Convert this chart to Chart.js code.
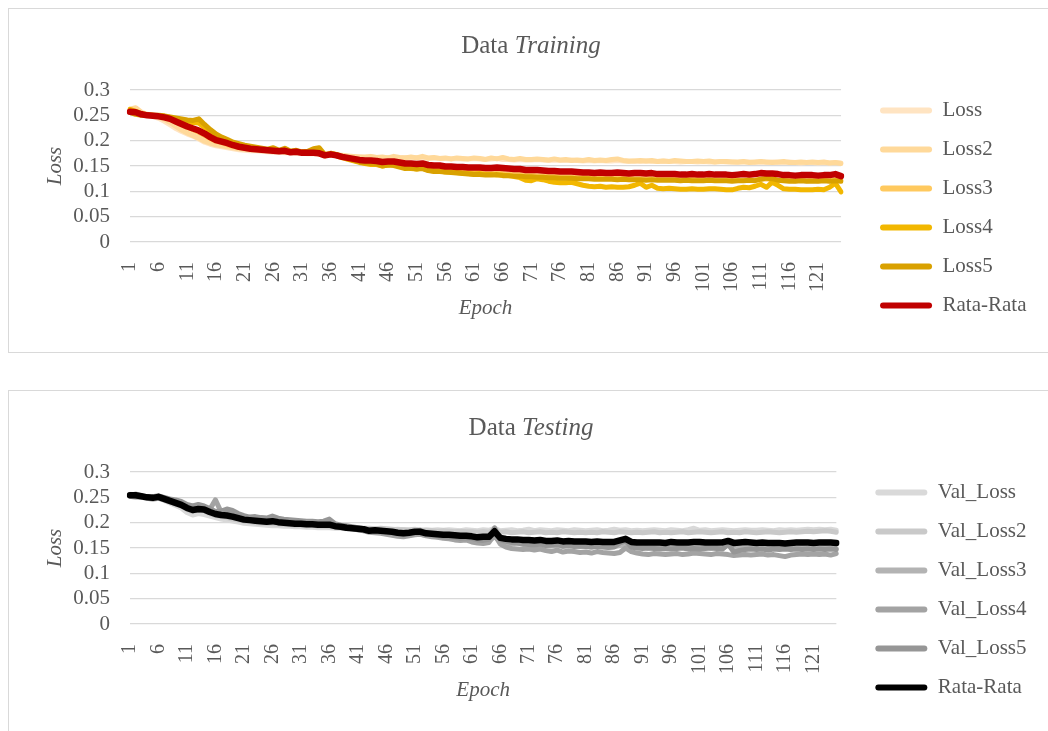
<!DOCTYPE html>
<html>
<head>
<meta charset="utf-8">
<script src="https://cdn.jsdelivr.net/npm/chart.js@4.4.1/dist/chart.umd.min.js"></script>
<style>
    body { margin: 0; overflow: hidden; background: #fff; }
    .box { position: absolute; left: 8px; width: 1044px; height: 343px; border: 1px solid #d9d9d9; }
    canvas { display: block; }
</style>
</head>
<body>
<div class="box" style="top: 8px;"><canvas id="trainChart" width="1044" height="343"></canvas></div>
<div class="box" style="top: 390px;"><canvas id="testChart" width="1044" height="343"></canvas></div>
<script>
const epochs = [
    1, 2, 3, 4, 5, 6, 7, 8, 9, 10, 11, 12, 13, 14, 15, 16, 17, 18, 19, 20,
    21, 22, 23, 24, 25, 26, 27, 28, 29, 30, 31, 32, 33, 34, 35, 36, 37, 38, 39, 40,
    41, 42, 43, 44, 45, 46, 47, 48, 49, 50, 51, 52, 53, 54, 55, 56, 57, 58, 59, 60,
    61, 62, 63, 64, 65, 66, 67, 68, 69, 70, 71, 72, 73, 74, 75, 76, 77, 78, 79, 80,
    81, 82, 83, 84, 85, 86, 87, 88, 89, 90, 91, 92, 93, 94, 95, 96, 97, 98, 99, 100,
    101, 102, 103, 104, 105, 106, 107, 108, 109, 110, 111, 112, 113, 114, 115, 116, 117, 118, 119, 120,
    121, 122, 123, 124, 125
];

// training
const loss = [
    0.258, 0.262, 0.254, 0.251, 0.248, 0.244, 0.238, 0.231, 0.224, 0.218,
    0.213, 0.209, 0.203, 0.197, 0.193, 0.190, 0.188, 0.186, 0.184, 0.182,
    0.181, 0.180, 0.180, 0.179, 0.178, 0.177, 0.177, 0.176, 0.176, 0.175,
    0.175, 0.174, 0.174, 0.173, 0.172, 0.172, 0.171, 0.170, 0.169, 0.168,
    0.168, 0.167, 0.168, 0.167, 0.166, 0.167, 0.166, 0.166, 0.167, 0.166,
    0.167, 0.166, 0.165, 0.166, 0.165, 0.165, 0.164, 0.165, 0.164, 0.164,
    0.165, 0.164, 0.163, 0.164, 0.165, 0.163, 0.163, 0.162, 0.163, 0.162,
    0.162, 0.163, 0.162, 0.161, 0.162, 0.161, 0.161, 0.162, 0.161, 0.160,
    0.161, 0.160, 0.161, 0.160, 0.160, 0.161, 0.160, 0.159, 0.160, 0.159,
    0.160, 0.159, 0.159, 0.160, 0.159, 0.159, 0.158, 0.159, 0.159, 0.158,
    0.159, 0.158, 0.158, 0.159, 0.158, 0.158, 0.157, 0.158, 0.158, 0.157,
    0.158, 0.157, 0.158, 0.157, 0.157, 0.158, 0.157, 0.156, 0.157, 0.157,
    0.156, 0.157, 0.156, 0.157, 0.156
];
const loss2 = [
    0.262, 0.265, 0.256, 0.252, 0.250, 0.247, 0.242, 0.236, 0.228, 0.221,
    0.215, 0.210, 0.205, 0.199, 0.195, 0.192, 0.190, 0.188, 0.186, 0.184,
    0.183, 0.182, 0.181, 0.180, 0.182, 0.179, 0.178, 0.180, 0.177, 0.177,
    0.178, 0.176, 0.175, 0.176, 0.174, 0.175, 0.173, 0.171, 0.170, 0.169,
    0.168, 0.168, 0.169, 0.167, 0.168, 0.166, 0.169, 0.167, 0.166, 0.168,
    0.166, 0.169, 0.166, 0.167, 0.165, 0.166, 0.164, 0.166, 0.165, 0.164,
    0.166, 0.165, 0.163, 0.166, 0.164, 0.167, 0.164, 0.163, 0.165, 0.163,
    0.163, 0.164, 0.163, 0.162, 0.164, 0.162, 0.163, 0.161, 0.162, 0.161,
    0.163, 0.161, 0.162, 0.161, 0.163, 0.164, 0.161, 0.160, 0.160, 0.161,
    0.160, 0.161, 0.159, 0.160, 0.159, 0.161, 0.160, 0.159, 0.159, 0.160,
    0.159, 0.160, 0.158, 0.159, 0.159, 0.158, 0.158, 0.159, 0.157, 0.158,
    0.159, 0.158, 0.157, 0.158, 0.159, 0.157, 0.157, 0.158, 0.157, 0.158,
    0.157, 0.158, 0.156, 0.157, 0.155
];
const loss3 = [
    0.260, 0.256, 0.252, 0.250, 0.249, 0.248, 0.246, 0.243, 0.237, 0.231,
    0.226, 0.221, 0.216, 0.210, 0.204, 0.199, 0.196, 0.192, 0.189, 0.187,
    0.185, 0.184, 0.183, 0.181, 0.180, 0.180, 0.179, 0.178, 0.177, 0.177,
    0.176, 0.175, 0.175, 0.174, 0.171, 0.172, 0.170, 0.166, 0.164, 0.162,
    0.160, 0.160, 0.158, 0.157, 0.156, 0.156, 0.157, 0.154, 0.151, 0.150,
    0.149, 0.150, 0.147, 0.145, 0.144, 0.142, 0.141, 0.140, 0.139, 0.138,
    0.137, 0.137, 0.136, 0.136, 0.137, 0.135, 0.134, 0.133, 0.133, 0.132,
    0.132, 0.131, 0.131, 0.130, 0.130, 0.129, 0.129, 0.129, 0.128, 0.128,
    0.127, 0.127, 0.127, 0.127, 0.126, 0.127, 0.126, 0.126, 0.125, 0.125,
    0.125, 0.125, 0.124, 0.124, 0.124, 0.124, 0.123, 0.123, 0.124, 0.123,
    0.123, 0.123, 0.123, 0.122, 0.123, 0.122, 0.122, 0.122, 0.123, 0.122,
    0.124, 0.125, 0.123, 0.122, 0.122, 0.122, 0.121, 0.122, 0.121, 0.122,
    0.121, 0.122, 0.121, 0.123, 0.122
];
const loss4 = [
    0.262, 0.258, 0.253, 0.251, 0.250, 0.249, 0.248, 0.246, 0.243, 0.240,
    0.237, 0.236, 0.235, 0.226, 0.219, 0.210, 0.204, 0.198, 0.194, 0.191,
    0.188, 0.186, 0.185, 0.183, 0.181, 0.183, 0.180, 0.181, 0.178, 0.180,
    0.177, 0.176, 0.177, 0.175, 0.170, 0.174, 0.171, 0.167, 0.163, 0.160,
    0.157, 0.155, 0.153, 0.153, 0.150, 0.152, 0.153, 0.150, 0.146, 0.145,
    0.144, 0.146, 0.142, 0.140, 0.140, 0.138, 0.138, 0.137, 0.136, 0.135,
    0.134, 0.135, 0.133, 0.133, 0.132, 0.132, 0.131, 0.129, 0.127, 0.122,
    0.121, 0.125, 0.123, 0.120, 0.118, 0.117, 0.117, 0.118, 0.115, 0.112,
    0.110, 0.109, 0.110, 0.108, 0.109, 0.108, 0.108, 0.109, 0.112, 0.116,
    0.108, 0.112, 0.106, 0.105, 0.106, 0.105, 0.104, 0.104, 0.105, 0.104,
    0.104, 0.105, 0.105, 0.104, 0.103, 0.103, 0.106, 0.108, 0.107, 0.110,
    0.114, 0.108, 0.118, 0.112, 0.105, 0.104, 0.104, 0.103, 0.103, 0.103,
    0.104, 0.103, 0.108, 0.116, 0.099
];
const loss5 = [
    0.256, 0.252, 0.250, 0.250, 0.250, 0.250, 0.249, 0.247, 0.245, 0.243,
    0.241, 0.240, 0.243, 0.232, 0.222, 0.213, 0.207, 0.202, 0.197, 0.194,
    0.191, 0.189, 0.187, 0.185, 0.183, 0.186, 0.181, 0.185, 0.179, 0.181,
    0.178, 0.179, 0.184, 0.186, 0.172, 0.175, 0.173, 0.168, 0.165, 0.161,
    0.158, 0.156, 0.155, 0.154, 0.150, 0.152, 0.151, 0.148, 0.145, 0.146,
    0.144, 0.145, 0.141, 0.139, 0.139, 0.138, 0.137, 0.136, 0.135, 0.134,
    0.133, 0.133, 0.132, 0.132, 0.133, 0.131, 0.131, 0.130, 0.130, 0.129,
    0.129, 0.128, 0.128, 0.127, 0.127, 0.126, 0.126, 0.126, 0.125, 0.125,
    0.125, 0.124, 0.124, 0.124, 0.124, 0.123, 0.124, 0.123, 0.123, 0.123,
    0.122, 0.123, 0.122, 0.122, 0.122, 0.122, 0.121, 0.122, 0.121, 0.121,
    0.121, 0.122, 0.121, 0.121, 0.121, 0.120, 0.121, 0.121, 0.122, 0.121,
    0.124, 0.126, 0.125, 0.122, 0.121, 0.120, 0.120, 0.121, 0.120, 0.120,
    0.120, 0.121, 0.120, 0.121, 0.120
];
const trainMean = [
    0.257, 0.256, 0.252, 0.250, 0.249, 0.248, 0.246, 0.243, 0.238, 0.233,
    0.228, 0.224, 0.220, 0.214, 0.207, 0.201, 0.198, 0.195, 0.191, 0.188,
    0.186, 0.184, 0.183, 0.182, 0.181, 0.180, 0.179, 0.180, 0.177, 0.178,
    0.176, 0.176, 0.176, 0.175, 0.171, 0.173, 0.171, 0.168, 0.166, 0.164,
    0.162, 0.161, 0.161, 0.160, 0.158, 0.159, 0.159, 0.157, 0.155, 0.155,
    0.154, 0.155, 0.152, 0.151, 0.151, 0.149, 0.149, 0.148, 0.148, 0.147,
    0.147, 0.147, 0.146, 0.146, 0.147, 0.146, 0.145, 0.144, 0.144, 0.142,
    0.142, 0.142, 0.141, 0.140, 0.140, 0.139, 0.139, 0.139, 0.138, 0.137,
    0.137, 0.136, 0.137, 0.136, 0.136, 0.137, 0.136, 0.135, 0.136, 0.136,
    0.135, 0.136, 0.134, 0.134, 0.134, 0.134, 0.133, 0.133, 0.134, 0.133,
    0.133, 0.134, 0.133, 0.133, 0.133, 0.132, 0.133, 0.134, 0.133, 0.134,
    0.136, 0.135, 0.135, 0.134, 0.132, 0.132, 0.131, 0.132, 0.132, 0.132,
    0.131, 0.132, 0.132, 0.134, 0.130
];

// testing
const valLoss = [
    0.256, 0.255, 0.252, 0.249, 0.248, 0.249, 0.244, 0.239, 0.234, 0.229,
    0.220, 0.215, 0.218, 0.216, 0.213, 0.210, 0.207, 0.205, 0.203, 0.201,
    0.199, 0.198, 0.197, 0.196, 0.195, 0.194, 0.194, 0.193, 0.193, 0.192,
    0.192, 0.191, 0.191, 0.190, 0.190, 0.190, 0.189, 0.189, 0.188, 0.188,
    0.189, 0.188, 0.187, 0.188, 0.187, 0.187, 0.186, 0.187, 0.186, 0.186,
    0.187, 0.185, 0.186, 0.185, 0.186, 0.185, 0.186, 0.185, 0.184, 0.186,
    0.185, 0.184, 0.186, 0.185, 0.189, 0.184, 0.185, 0.186, 0.184, 0.185,
    0.187, 0.184, 0.186, 0.185, 0.184, 0.186, 0.185, 0.184, 0.186, 0.185,
    0.184, 0.185, 0.186, 0.184, 0.185, 0.187, 0.185, 0.186, 0.184, 0.185,
    0.184, 0.185, 0.186, 0.185, 0.184, 0.186, 0.185, 0.184, 0.186, 0.189,
    0.185, 0.186, 0.184, 0.185, 0.186, 0.185, 0.184, 0.185, 0.186, 0.185,
    0.185, 0.186, 0.185, 0.184, 0.186, 0.185, 0.186, 0.185, 0.186, 0.187,
    0.186, 0.187, 0.186, 0.187, 0.185
];
const valLoss2 = [
    0.253, 0.257, 0.253, 0.251, 0.249, 0.252, 0.247, 0.243, 0.238, 0.233,
    0.226, 0.222, 0.226, 0.224, 0.218, 0.214, 0.212, 0.210, 0.207, 0.205,
    0.203, 0.202, 0.200, 0.199, 0.199, 0.198, 0.197, 0.197, 0.196, 0.195,
    0.195, 0.194, 0.196, 0.193, 0.193, 0.192, 0.192, 0.191, 0.190, 0.190,
    0.190, 0.189, 0.189, 0.188, 0.189, 0.188, 0.187, 0.186, 0.186, 0.185,
    0.186, 0.185, 0.184, 0.184, 0.183, 0.184, 0.183, 0.182, 0.183, 0.182,
    0.182, 0.181, 0.182, 0.181, 0.186, 0.181, 0.182, 0.180, 0.181, 0.182,
    0.180, 0.181, 0.182, 0.180, 0.181, 0.180, 0.182, 0.181, 0.180, 0.181,
    0.180, 0.181, 0.180, 0.182, 0.181, 0.180, 0.182, 0.181, 0.180, 0.181,
    0.180, 0.181, 0.182, 0.180, 0.181, 0.180, 0.181, 0.182, 0.180, 0.181,
    0.182, 0.181, 0.180, 0.181, 0.182, 0.180, 0.181, 0.180, 0.182, 0.181,
    0.180, 0.181, 0.182, 0.181, 0.180, 0.181, 0.182, 0.181, 0.182, 0.183,
    0.182, 0.183, 0.184, 0.183, 0.181
];
const valLoss3 = [
    0.252, 0.250, 0.250, 0.248, 0.246, 0.248, 0.245, 0.241, 0.237, 0.233,
    0.229, 0.226, 0.224, 0.225, 0.221, 0.216, 0.214, 0.212, 0.210, 0.208,
    0.206, 0.205, 0.204, 0.203, 0.202, 0.201, 0.200, 0.200, 0.199, 0.198,
    0.198, 0.197, 0.197, 0.196, 0.195, 0.195, 0.193, 0.191, 0.189, 0.188,
    0.186, 0.185, 0.184, 0.183, 0.182, 0.181, 0.179, 0.177, 0.176, 0.177,
    0.178, 0.177, 0.175, 0.174, 0.172, 0.171, 0.170, 0.170, 0.169, 0.168,
    0.166, 0.165, 0.166, 0.165, 0.172, 0.163, 0.160, 0.158, 0.160, 0.157,
    0.158, 0.155, 0.157, 0.156, 0.154, 0.156, 0.153, 0.155, 0.154, 0.153,
    0.154, 0.152, 0.154, 0.153, 0.152, 0.153, 0.155, 0.157, 0.152, 0.151,
    0.152, 0.150, 0.151, 0.152, 0.150, 0.151, 0.150, 0.152, 0.151, 0.150,
    0.151, 0.152, 0.150, 0.151, 0.149, 0.156, 0.150, 0.151, 0.150, 0.149,
    0.150, 0.151, 0.149, 0.150, 0.151, 0.150, 0.149, 0.150, 0.151, 0.150,
    0.149, 0.150, 0.151, 0.150, 0.149
];
const valLoss4 = [
    0.255, 0.254, 0.252, 0.250, 0.249, 0.251, 0.248, 0.245, 0.243, 0.240,
    0.234, 0.230, 0.229, 0.231, 0.226, 0.245, 0.221, 0.219, 0.217, 0.213,
    0.210, 0.208, 0.207, 0.206, 0.205, 0.207, 0.204, 0.203, 0.202, 0.201,
    0.200, 0.199, 0.199, 0.198, 0.197, 0.196, 0.195, 0.193, 0.191, 0.189,
    0.186, 0.184, 0.181, 0.180, 0.179, 0.177, 0.175, 0.173, 0.172, 0.174,
    0.176, 0.177, 0.174, 0.172, 0.171, 0.169, 0.168, 0.166, 0.165, 0.166,
    0.162, 0.160, 0.159, 0.161, 0.176, 0.158, 0.152, 0.149, 0.148, 0.147,
    0.148, 0.146, 0.148, 0.145, 0.143, 0.146, 0.142, 0.144, 0.143, 0.141,
    0.142, 0.140, 0.143, 0.141, 0.140, 0.139, 0.141, 0.150, 0.143, 0.140,
    0.138, 0.137, 0.139, 0.138, 0.137, 0.138, 0.139, 0.137, 0.138, 0.140,
    0.139, 0.138, 0.137, 0.139, 0.138, 0.137, 0.135, 0.136, 0.137, 0.136,
    0.137, 0.138, 0.136, 0.137, 0.135, 0.133, 0.136, 0.137, 0.138, 0.137,
    0.138, 0.137, 0.138, 0.136, 0.139
];
const valLoss5 = [
    0.253, 0.252, 0.252, 0.250, 0.251, 0.253, 0.250, 0.247, 0.245, 0.242,
    0.236, 0.233, 0.236, 0.233, 0.228, 0.222, 0.223, 0.227, 0.224, 0.218,
    0.214, 0.211, 0.212, 0.210, 0.209, 0.213, 0.209, 0.207, 0.206, 0.205,
    0.204, 0.203, 0.203, 0.202, 0.203, 0.207, 0.198, 0.195, 0.194, 0.192,
    0.190, 0.188, 0.186, 0.186, 0.185, 0.183, 0.182, 0.178, 0.176, 0.178,
    0.182, 0.185, 0.177, 0.176, 0.174, 0.172, 0.171, 0.171, 0.169, 0.170,
    0.169, 0.166, 0.165, 0.167, 0.190, 0.166, 0.163, 0.161, 0.160, 0.158,
    0.157, 0.156, 0.158, 0.155, 0.156, 0.157, 0.154, 0.155, 0.153, 0.154,
    0.153, 0.152, 0.153, 0.152, 0.151, 0.152, 0.160, 0.164, 0.152, 0.150,
    0.149, 0.150, 0.149, 0.148, 0.149, 0.148, 0.149, 0.150, 0.148, 0.149,
    0.148, 0.149, 0.150, 0.149, 0.148, 0.158, 0.142, 0.145, 0.147, 0.148,
    0.147, 0.148, 0.146, 0.148, 0.147, 0.148, 0.147, 0.148, 0.147, 0.148,
    0.147, 0.148, 0.147, 0.148, 0.147
];
const testMean = [
    0.254, 0.254, 0.252, 0.250, 0.249, 0.251, 0.247, 0.243, 0.239, 0.235,
    0.229, 0.225, 0.227, 0.226, 0.221, 0.217, 0.215, 0.214, 0.212, 0.209,
    0.206, 0.205, 0.204, 0.203, 0.202, 0.203, 0.201, 0.200, 0.199, 0.198,
    0.198, 0.197, 0.197, 0.196, 0.196, 0.196, 0.193, 0.192, 0.190, 0.189,
    0.188, 0.187, 0.184, 0.185, 0.184, 0.183, 0.182, 0.180, 0.179, 0.180,
    0.182, 0.182, 0.179, 0.178, 0.177, 0.176, 0.176, 0.175, 0.174, 0.174,
    0.173, 0.171, 0.172, 0.172, 0.183, 0.170, 0.168, 0.167, 0.167, 0.166,
    0.166, 0.165, 0.166, 0.164, 0.164, 0.165, 0.163, 0.164, 0.163, 0.163,
    0.163, 0.162, 0.163, 0.162, 0.162, 0.162, 0.165, 0.168, 0.162, 0.161,
    0.161, 0.161, 0.161, 0.161, 0.160, 0.162, 0.161, 0.161, 0.161, 0.162,
    0.162, 0.161, 0.161, 0.161, 0.161, 0.164, 0.160, 0.161, 0.162, 0.161,
    0.160, 0.161, 0.160, 0.160, 0.160, 0.159, 0.160, 0.161, 0.161, 0.161,
    0.160, 0.161, 0.161, 0.161, 0.160
];

const trainLabels = ["Loss", "Loss2", "Loss3", "Loss4", "Loss5", "Rata-Rata"];
const trainColors = ["#ffe4c2", "#ffd99a", "#ffc95e", "#f2b700", "#d9a100", "#c00000"];
const testLabels = ["Val_Loss", "Val_Loss2", "Val_Loss3", "Val_Loss4", "Val_Loss5", "Rata-Rata"];
const testColors = ["#d9d9d9", "#c9c9c9", "#b3b3b3", "#a3a3a3", "#969696", "#000000"];

const textColor = "#595959";
Chart.defaults.font.family = "'Liberation Serif', 'Times New Roman', serif";
Chart.defaults.color = textColor;

// title with a plain and an italic part
const splitTitle = {
    id: "splitTitle",
    afterDraw(chart, args, opts) {
        const ctx = chart.ctx;
        const fam = Chart.defaults.font.family;
        ctx.save();
        ctx.fillStyle = textColor;
        ctx.textBaseline = "alphabetic";
        ctx.font = "25px " + fam;
        const w1 = ctx.measureText(opts.plain).width;
        ctx.font = "italic 25px " + fam;
        const w2 = ctx.measureText(opts.italic).width;
        const x = chart.width / 2 - (w1 + w2) / 2;
        ctx.font = "25px " + fam;
        ctx.fillText(opts.plain, x, 44);
        ctx.font = "italic 25px " + fam;
        ctx.fillText(opts.italic, x + w1, 44);
        ctx.restore();
    }
};

// hidden axis used only as spacing (display false so the legend keeps its width)
function spacer(axis, position, size) {
    return {
        axis: axis,
        type: "linear",
        position: position,
        display: false,
        afterFit: function (scale) {
            if (axis == "x") scale.height = size;
            else scale.width = size;
        },
    };
}

function makeChart(id, series, labels, colors, titleItalic) {
    let datasets = series.map(function (values, i) {
        let isMean = i == series.length - 1;
        return {
            label: labels[i],
            data: values,
            borderColor: colors[i],
            backgroundColor: colors[i],
            borderWidth: isMean ? 6.5 : 5,
            pointRadius: 0,
            tension: 0,
            borderJoinStyle: "round",
            borderCapStyle: "round",
            order: series.length - i, // last series on top, like the original
        };
    });

    return new Chart(document.getElementById(id), {
        type: "line",
        data: { labels: epochs, datasets: datasets },
        plugins: [splitTitle],
        options: {
            responsive: false,
            animation: false,
            layout: { padding: { left: 34, top: 60, right: 16.5, bottom: 5 } },
            scales: {
                x: {
                    grid: { display: false },
                    border: { display: false },
                    ticks: {
                        autoSkip: false,
                        minRotation: 90,
                        maxRotation: 90,
                        padding: 12,
                        font: { size: 20 },
                        callback: function (value, index) {
                            return index % 5 === 0 ? this.getLabelForValue(value) : "";
                        },
                    },
                    title: {
                        display: true,
                        text: "Epoch",
                        font: { size: 21, style: "italic" },
                        padding: { top: 0, bottom: 26 },
                    },
                    afterFit: function (scale) { scale.height = 105; },
                },
                y: {
                    min: 0,
                    max: 0.3,
                    ticks: {
                        stepSize: 0.05,
                        autoSkip: false,
                        padding: 20,
                        font: { size: 21 },
                        callback: function (value) { return String(Number(value.toFixed(2))); },
                    },
                    grid: { color: "#d9d9d9", lineWidth: 1.2, drawTicks: false },
                    border: { display: false },
                    title: {
                        display: true,
                        text: "Loss",
                        font: { size: 21, style: "italic" },
                        padding: 0,
                    },
                    afterFit: function (scale) { scale.width = 87; },
                },
                padTop: spacer("x", "top", 21),
                padRight: spacer("y", "right", 21),
            },
            plugins: {
                splitTitle: { plain: "Data ", italic: titleItalic },
                tooltip: { enabled: false },
                legend: {
                    position: "right",
                    labels: {
                        boxWidth: 52,
                        boxHeight: 6,
                        padding: 18,
                        font: { size: 21 },
                        color: textColor,
                        generateLabels: function (chart) {
                            let items = Chart.defaults.plugins.legend.labels.generateLabels(chart);
                            return items.map(function (item) {
                                item.lineWidth = 0;
                                item.borderRadius = 3;
                                return item;
                            });
                        },
                        sort: function (a, b) { return a.datasetIndex - b.datasetIndex; },
                    },
                },
            },
        },
    });
}

makeChart("trainChart", [loss, loss2, loss3, loss4, loss5, trainMean], trainLabels, trainColors, "Training");
makeChart("testChart", [valLoss, valLoss2, valLoss3, valLoss4, valLoss5, testMean], testLabels, testColors, "Testing");
</script>
</body>
</html>
